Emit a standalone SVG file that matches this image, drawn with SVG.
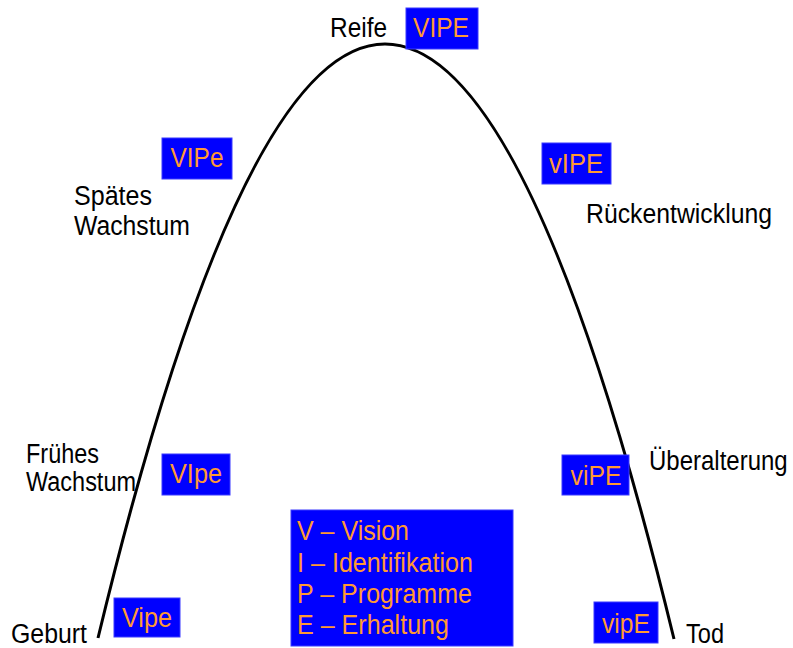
<svg xmlns="http://www.w3.org/2000/svg" width="793" height="648" viewBox="0 0 793 648">
<style>
.lbl{font-family:"Liberation Sans",Arial,sans-serif;font-size:27px;fill:#000}
.box{fill:#0000ff;stroke:#3a3aff;stroke-width:1}
.bt{font-family:"Liberation Sans",Arial,sans-serif;font-size:28px;fill:#ff9933;text-anchor:middle}
.lt{font-family:"Liberation Sans",Arial,sans-serif;font-size:28px;fill:#ff9933}
.curve{fill:none;stroke:#000;stroke-width:3}
</style>
<rect width="793" height="648" fill="#fff"/>
<g id="connectors">
<path class="curve" d="M98,638 Q241.5,44 385,44 Q529.5,44 674,639"/>
</g>
<g id="labels">
<text class="lbl" x="330" y="37" textLength="57" lengthAdjust="spacingAndGlyphs">Reife</text>
<text class="lbl" x="74" y="205" textLength="78" lengthAdjust="spacingAndGlyphs">Spätes</text>
<text class="lbl" x="74" y="235" textLength="116" lengthAdjust="spacingAndGlyphs">Wachstum</text>
<text class="lbl" x="586" y="223" textLength="186" lengthAdjust="spacingAndGlyphs">Rückentwicklung</text>
<text class="lbl" x="26" y="463" textLength="73" lengthAdjust="spacingAndGlyphs">Frühes</text>
<text class="lbl" x="26" y="491" textLength="110" lengthAdjust="spacingAndGlyphs">Wachstum</text>
<text class="lbl" transform="translate(649,470) scale(1,1.12)" x="0" y="0" style="font-size:24px">Überalterung</text>
<text class="lbl" x="11" y="643" textLength="76" lengthAdjust="spacingAndGlyphs">Geburt</text>
<text class="lbl" x="686" y="643" textLength="38" lengthAdjust="spacingAndGlyphs">Tod</text>
</g>
<g id="node-reife">
<rect class="box" x="406" y="8" width="72" height="41"/>
<text class="bt" x="441" y="37" textLength="56" lengthAdjust="spacingAndGlyphs">VIPE</text>
</g>
<g id="node-spaetes">
<rect class="box" x="162" y="138" width="70" height="41"/>
<text class="bt" x="197" y="167" textLength="53" lengthAdjust="spacingAndGlyphs">VIPe</text>
</g>
<g id="node-rueck">
<rect class="box" x="542" y="143" width="69" height="41"/>
<text class="bt" x="576" y="173" textLength="54" lengthAdjust="spacingAndGlyphs">vIPE</text>
</g>
<g id="node-frueh">
<rect class="box" x="162" y="454" width="68" height="41"/>
<text class="bt" x="196" y="483" textLength="52" lengthAdjust="spacingAndGlyphs">VIpe</text>
</g>
<g id="node-ueber">
<rect class="box" x="562" y="455" width="67" height="40"/>
<text class="bt" x="596" y="485" textLength="51" lengthAdjust="spacingAndGlyphs">viPE</text>
</g>
<g id="node-geburt">
<rect class="box" x="114" y="598" width="66" height="39"/>
<text class="bt" x="147" y="627" textLength="50" lengthAdjust="spacingAndGlyphs">Vipe</text>
</g>
<g id="node-tod">
<rect class="box" x="594" y="602" width="64" height="41"/>
<text class="bt" x="626" y="633" textLength="48" lengthAdjust="spacingAndGlyphs">vipE</text>
</g>
<g id="legend">
<rect class="box" x="291" y="510" width="222" height="136"/>
<text class="lt" x="297" y="540" textLength="112" lengthAdjust="spacingAndGlyphs">V – Vision</text>
<text class="lt" x="297" y="572" textLength="176" lengthAdjust="spacingAndGlyphs">I – Identifikation</text>
<text class="lt" x="297" y="603" textLength="175" lengthAdjust="spacingAndGlyphs">P – Programme</text>
<text class="lt" x="297" y="634" textLength="152" lengthAdjust="spacingAndGlyphs">E – Erhaltung</text>
</g>
</svg>
